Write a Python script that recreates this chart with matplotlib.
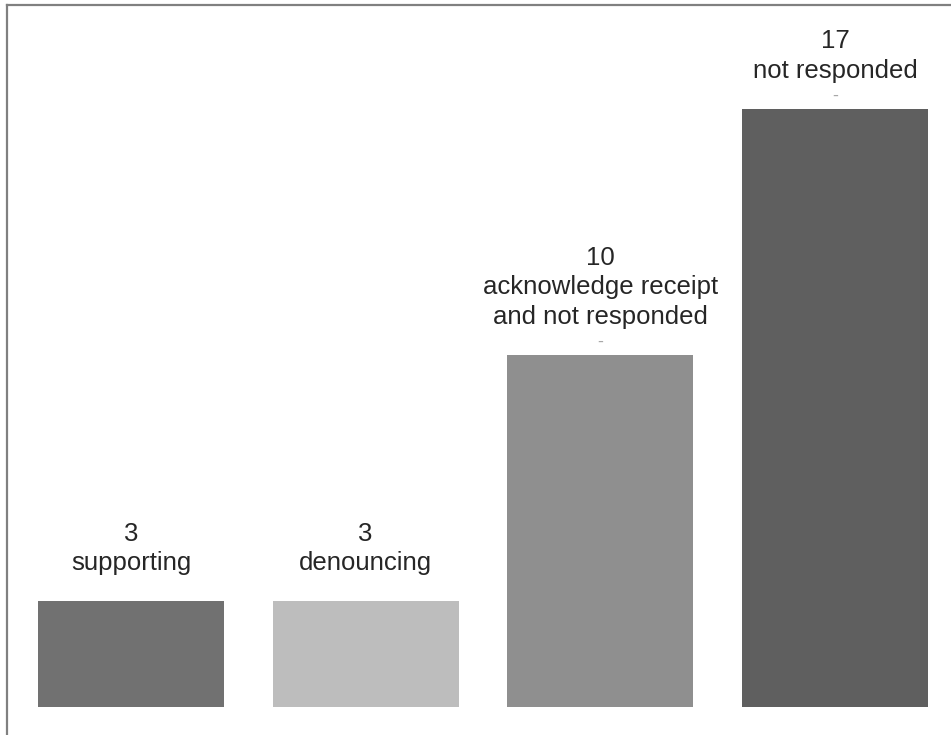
import matplotlib
matplotlib.use("Agg")
import matplotlib.pyplot as plt
from matplotlib.lines import Line2D

# data
counts = [3, 3, 10, 17]
labels = ["supporting", "denouncing", "acknowledge receipt\nand not responded", "not responded"]
colors = ["#717171", "#bdbdbd", "#8f8f8f", "#5f5f5f"]
has_dash = [False, False, True, True]

fig = plt.figure(figsize=(9.51, 7.35), dpi=100)
ax = fig.add_axes([0, 0, 1, 1])

x = range(len(counts))
ax.bar(x, counts, width=0.793, color=colors)

ax.set_xlim(-0.558, 3.494)
ax.set_ylim(-0.795, 20.09)
ax.axis("off")

fam = ["Liberation Sans Narrow", "Liberation Sans", "DejaVu Sans"]
for i, (c, lab) in enumerate(zip(counts, labels)):
    ax.annotate(f"{c}\n{lab}", xy=(i, c), xytext=(0, 31), textcoords="offset pixels",
                ha="center", va="baseline", fontsize=18.5, color="#262626",
                family=fam, linespacing=1.3, multialignment="center")
    if has_dash[i]:
        ax.annotate("-", xy=(i, c), xytext=(0, 8), textcoords="offset pixels",
                    ha="center", va="baseline", fontsize=13, color="#a8a8a8", family=fam)

# frame lines on top and left
fig.add_artist(Line2D([7 / 951, 1], [1 - 5 / 735, 1 - 5 / 735], transform=fig.transFigure,
                      color="#808080", lw=1.6))
fig.add_artist(Line2D([7 / 951, 7 / 951], [0, 1 - 5 / 735], transform=fig.transFigure,
                      color="#808080", lw=1.6))

fig.savefig("out.png", dpi=100)
